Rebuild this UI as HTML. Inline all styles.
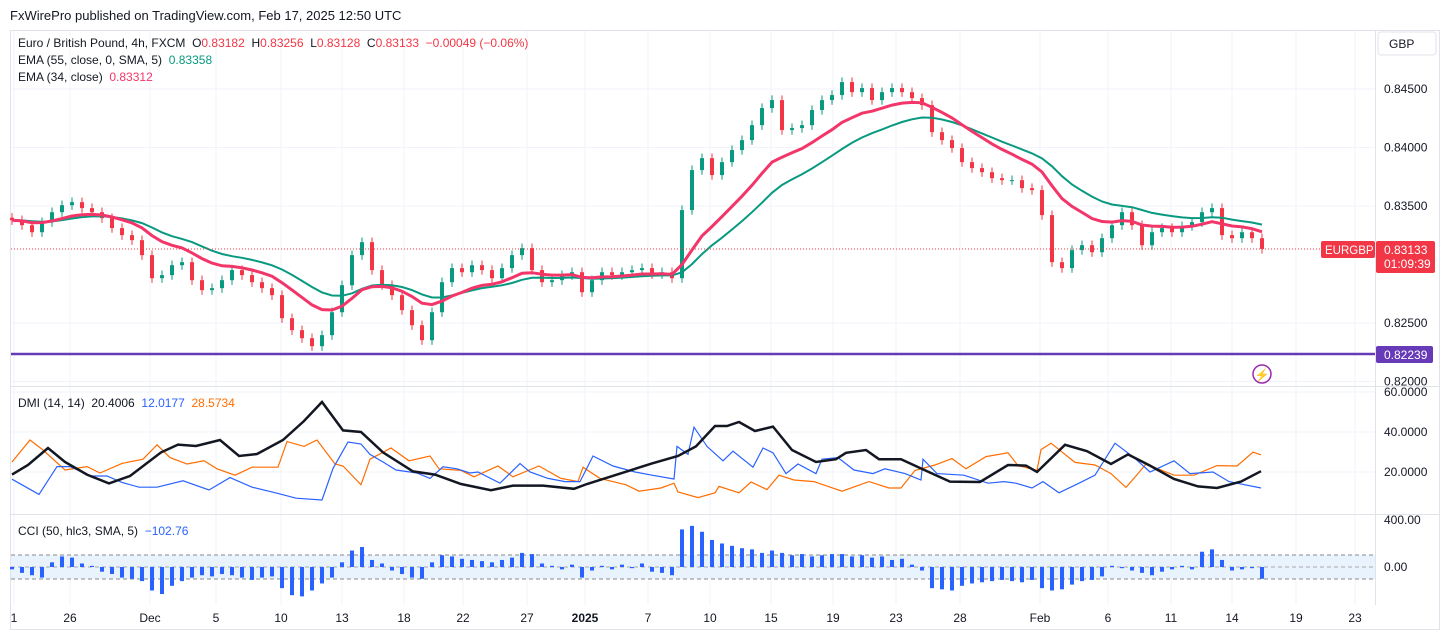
<!DOCTYPE html>
<html><head><meta charset="utf-8"><style>
body{margin:0;background:#fff;font-family:"Liberation Sans",sans-serif;}
#wrap{position:relative;width:1444px;height:638px;overflow:hidden;}
svg text{font-family:"Liberation Sans",sans-serif;white-space:pre;}
</style></head><body>
<div id="wrap">
<svg id="svg" width="1444" height="638" xmlns="http://www.w3.org/2000/svg">
<text x="10" y="20" font-size="13" fill="#131722">FxWirePro published on TradingView.com, Feb 17, 2025 12:50 UTC</text>
<rect x="10.5" y="30.5" width="1429" height="599" fill="#fff" stroke="#e0e3eb"/>
<g id="grid"></g>
<rect x="11" y="555" width="1364" height="24" fill="#e8f3fd"/>
<line x1="11" x2="1375" y1="555" y2="555" stroke="#888" stroke-dasharray="4,3"/>
<line x1="11" x2="1375" y1="567" y2="567" stroke="#aaa" stroke-dasharray="4,3"/>
<line x1="11" x2="1375" y1="579" y2="579" stroke="#888" stroke-dasharray="4,3"/>
<line x1="11" x2="1440" y1="386.5" y2="386.5" stroke="#e0e3eb"/>
<line x1="11" x2="1440" y1="514.5" y2="514.5" stroke="#e0e3eb"/>
<line x1="1375.5" x2="1375.5" y1="31" y2="605" stroke="#e0e3eb"/>
<g id="marks"></g>
<line x1="11" x2="1375" y1="354" y2="354" stroke="#673ab7" stroke-width="2.5"/>
<rect x="1376" y="346" width="57" height="17" rx="2" fill="#673ab7"/>
<text x="1384" y="359" font-size="12" fill="#fff">0.82239</text>
<circle cx="1262" cy="374" r="9" fill="none" stroke="#9c27b0" stroke-width="1.5"/>
<text x="1262" y="379" font-size="12" fill="#9c27b0" text-anchor="middle">⚡</text>
<rect x="1378" y="32" width="58" height="23" rx="3" fill="#fff" stroke="#e0e3eb"/>
<text x="1389" y="48" font-size="12" fill="#131722">GBP</text>
<g id="axes"></g>
<text x="18" y="47" font-size="12" fill="#131722">Euro / British Pound, 4h, FXCM  O<tspan fill="#f23645">0.83182</tspan>  H<tspan fill="#f23645">0.83256</tspan>  L<tspan fill="#f23645">0.83128</tspan>  C<tspan fill="#f23645">0.83133</tspan>  <tspan fill="#f23645">−0.00049 (−0.06%)</tspan></text>
<text x="18" y="64" font-size="12" fill="#131722">EMA (55, close, 0, SMA, 5)  <tspan fill="#089981">0.83358</tspan></text>
<text x="18" y="81" font-size="12" fill="#131722">EMA (34, close)  <tspan fill="#f23669">0.83312</tspan></text>
<text x="18" y="407" font-size="12" fill="#131722">DMI (14, 14)  20.4006  <tspan fill="#2962ff">12.0177</tspan>  <tspan fill="#ff6d00">28.5734</tspan></text>
<text x="18" y="535" font-size="12" fill="#131722">CCI (50, hlc3, SMA, 5)  <tspan fill="#2962ff">−102.76</tspan></text>
</svg>
</div>
<script>
const closes=[0.83379,0.83336,0.83276,0.83362,0.83447,0.83507,0.83533,0.83482,0.83447,0.83396,0.83311,0.83251,0.83208,0.83080,0.82883,0.82909,0.82994,0.83020,0.82866,0.82781,0.82798,0.82866,0.82952,0.82909,0.82849,0.82798,0.82738,0.82541,0.82439,0.82370,0.82302,0.82396,0.82592,0.82823,0.83080,0.83191,0.82952,0.82823,0.82738,0.82610,0.82481,0.82353,0.82592,0.82849,0.82969,0.82934,0.82994,0.82952,0.82883,0.82969,0.83080,0.83140,0.82952,0.82849,0.82866,0.82909,0.82934,0.82763,0.82866,0.82934,0.82909,0.82934,0.82952,0.82969,0.82917,0.82934,0.82883,0.83465,0.83807,0.83909,0.83764,0.83875,0.83978,0.84063,0.84191,0.84337,0.84405,0.84149,0.84166,0.84191,0.84320,0.84405,0.84448,0.84559,0.84473,0.84508,0.84405,0.84473,0.84508,0.84473,0.84422,0.84362,0.84131,0.84063,0.83995,0.83875,0.83824,0.83789,0.83738,0.83721,0.83721,0.83653,0.83636,0.83422,0.83020,0.82969,0.83123,0.83165,0.83105,0.83225,0.83336,0.83447,0.83336,0.83165,0.83276,0.83311,0.83276,0.83328,0.83362,0.83447,0.83482,0.83251,0.83225,0.83276,0.83225,0.83133];
const firstOpen=0.83400;
const cciVals=[-20,-50,-70,-90,40,90,80,30,10,-40,-60,-90,-100,-120,-200,-230,-160,-120,-90,-70,-80,-60,-70,-90,-110,-90,-80,-180,-240,-250,-200,-140,-90,40,140,170,60,30,-30,-60,-90,-100,40,100,90,70,60,50,40,60,80,120,110,30,10,-20,20,-90,-30,10,-20,20,-10,30,-40,-50,-70,320,350,300,230,200,180,160,150,120,140,120,100,110,90,100,110,110,90,100,80,90,60,70,20,-30,-180,-190,-200,-160,-140,-130,-120,-110,-120,-130,-110,-180,-200,-190,-150,-120,-110,-80,10,-10,-30,-50,-70,-40,-20,10,-20,130,150,60,-30,-20,-10,-100];
const adxIdx=[0,1.6,3.6,5.3,7.5,9.7,11.8,14.9,16.6,18.4,20.8,22.7,24.5,27.1,29.2,31,33.1,34.9,37.1,40.1,42.3,44.9,47.9,50.1,53.1,56.2,57.5,60.5,64,66.6,68.4,70.3,71.5,72.7,74.3,76.1,78,80.4,82.4,83.4,85.4,86.7,88.9,91.1,93.8,96.8,99.6,101.4,102.5,105.3,107.5,109.9,111.6,113.8,116.2,118.6,120.5,122.9,124.9];
const adxVals=[18.7,23.5,32,25,18.7,14.3,18,29.8,33.7,33,36,28,29,36,45.5,55,40.8,40,29.8,20.3,18.7,14,10.9,13.2,13.2,11.6,14,18.7,24.3,28,32.8,43,43,45,40.5,42.7,31,25,26.4,29.6,31,26.4,26.4,21.3,15.2,15,23.5,23.2,20,33.6,30.4,24,28.8,23.2,16.5,12.8,12,15.2,20.4];
const pdiIdx=[0,2.7,4.5,5.8,7.9,9.5,11,12.7,14.5,17.1,19.7,21.8,24,26.6,28.4,31,32.1,33.6,34.9,35.8,37.1,38.4,40.5,41.8,43.1,44.5,45.8,46.6,48.8,50.8,51.8,53.6,55.3,56.8,58.1,60.1,62.3,64,66.2,66.5,67.6,68.2,69.5,71.1,72.1,74.1,75.1,76.1,77.4,78.6,80.4,81,82.6,84.2,86.1,87.3,89.3,90.9,91.1,92.5,95.2,97.6,99.2,100.4,102,103.1,104.7,106.7,108.3,110.3,112.2,113.8,116.2,117.8,120.1,121.7,124.9];
const pdiVals=[16.4,8.8,22.7,22.7,18,18,14.8,12.4,12.4,15.6,11,17.2,12.4,9.3,6.9,6,21.8,35,34,28.8,25,21,19.5,16.8,22.6,21.6,19.5,20,14.4,24.2,20,16.8,15.2,15.2,28,23,20,18.4,16.5,32.8,28.8,42.4,32.8,25.6,30.4,22.4,32,29.6,19.2,24,19.2,26.4,27.2,21,19.2,21.6,19.2,16,26.4,19.2,18.4,14.4,15.2,14.4,12,15.2,9.6,14.4,18.4,34.4,27.2,20,25.6,19.2,20,15.2,12];
const mdiIdx=[0,1.8,3.1,5.3,7.5,8.8,11,13.1,14.5,15.8,17.5,19.2,20.5,22.3,24,26.6,27.5,29.2,30.5,32.3,33.1,34.9,35.8,37.9,39.7,41.8,42.7,44.9,46.2,48.6,50.1,52.7,54.9,56.6,57.1,58.8,61.4,62.7,64.9,66.2,66.6,68.6,70.3,70.7,72.7,73.9,75.5,76.7,78.2,80.2,83,85.7,87.7,88.9,90.3,92.3,94,95.4,97.4,99.6,100.6,102.5,102.9,103.9,106.3,108.3,109.9,111.4,112.6,113.4,116.2,118.2,120.5,122.5,124.1,124.9];
const mdiVals=[25,36,31,21,22.7,19.5,24.3,26.4,33.6,27.2,24,25.6,21.6,18.4,22.4,22.4,35.2,32.8,36,24,23,13.6,26.4,32,25.6,28,21.6,20.8,17.6,23,17.6,23,16.8,15.2,22.4,16.8,13.6,10.4,12,14.4,10,7.2,9.6,12.8,9.6,15,11.2,18.4,16,15.2,10.4,15.2,12,12,20.8,23.5,26.7,21.6,27.7,29.6,23.2,20.8,31.2,34.4,24.8,23.5,19.2,12.3,19.2,24,18.4,18.4,23.2,23,29.9,28.6];
const dateLabels=["1","26","Dec","5","10","13","18","22","27","2025","7","10","15","19","23","28","Feb","6","11","14","19","23"];
const dateBarPos=[0.2,5.8,13.8,20.4,26.9,33,39.2,45.1,51.5,57.3,63.6,69.8,75.9,82.1,88.4,94.8,102.8,109.6,115.9,122,128.4,134.3];
const priceTicks=[0.845,0.840,0.835,0.825,0.820];
const dmiTicks=[60,40,20];
const cciTicks=[400,0];

const NS="http://www.w3.org/2000/svg";
const marks=document.getElementById('marks'),grid=document.getElementById('grid'),axes=document.getElementById('axes');
const xOf=i=>12+10*i;
const yP=p=>89+(0.845-p)*11700;
const yD=v=>512-2*v;
const yC=v=>567-0.1175*v;
function mk(tag,attrs,parent){const e=document.createElementNS(NS,tag);for(const k in attrs)e.setAttribute(k,attrs[k]);parent.appendChild(e);return e;}

dateBarPos.forEach((b,i)=>{
  const gl=mk('line',{x1:xOf(b),x2:xOf(b),y1:31,y2:605,stroke:'#f0f3fa'},grid);
  
  
  const t=mk('text',{x:xOf(b),y:622,'font-size':12,fill:'#131722','text-anchor':'middle','font-weight':dateLabels[i]==='2025'?'bold':'normal'},axes);
  t.textContent=dateLabels[i];
  
  
});
priceTicks.forEach(p=>{
  const gl=mk('line',{x1:11,x2:1375,y1:yP(p),y2:yP(p),stroke:'#f0f3fa'},grid);
  
  
  const t=mk('text',{x:1384,y:yP(p)+4,'font-size':12,fill:'#131722'},axes);
  t.textContent=p.toFixed(5);
  
  
});
dmiTicks.forEach(v=>{
  const gl=mk('line',{x1:11,x2:1375,y1:yD(v),y2:yD(v),stroke:'#f0f3fa'},grid);
  
  
  const t=mk('text',{x:1384,y:yD(v)+4,'font-size':12,fill:'#131722'},axes);
  t.textContent=v.toFixed(4);
  
  
});
cciTicks.forEach(v=>{
  const t=mk('text',{x:1384,y:yC(v)+4,'font-size':12,fill:'#131722'},axes);
  t.textContent=v.toFixed(2);
  
  
});

closes.forEach((c,i)=>{
  const o=i===0?firstOpen:closes[i-1];
  const up=c>=o, col=up?'#089981':'#f23645';
  const hi=Math.max(o,c)+0.0004, lo=Math.min(o,c)-0.0004;
  const w=mk('line',{x1:xOf(i),x2:xOf(i),y1:yP(hi),y2:yP(lo),stroke:col,'stroke-width':1},marks);
  
  
  const top=yP(Math.max(o,c)),h=Math.max(1,yP(Math.min(o,c))-top);
  const b=mk('rect',{x:xOf(i)-2,y:top,width:4,height:h,fill:col},marks);
  
  
});
function ema(arr,n){const k=2/(n+1);let e=arr[0];return arr.map(v=>(e=v*k+e*(1-k)));}
const e34=ema(closes,12);
const e55raw=ema(closes,19);
const e55=e55raw.map((v,i)=>{const s=e55raw.slice(Math.max(0,i-1),i+1);return s.reduce((a,b)=>a+b,0)/s.length;});
function path(xs,ys){return xs.map((x,i)=>(i?'L':'M')+x.toFixed(1)+','+ys[i].toFixed(1)).join('');}
const p55=mk('path',{d:path(closes.map((_,i)=>xOf(i)),e55.map(yP)),fill:'none',stroke:'#089981','stroke-width':2},marks);


const p34=mk('path',{d:path(closes.map((_,i)=>xOf(i)),e34.map(yP)),fill:'none',stroke:'#f23669','stroke-width':3},marks);


const last=closes[closes.length-1];
const lp=mk('line',{x1:11,x2:1375,y1:yP(last),y2:yP(last),stroke:'#f23645','stroke-dasharray':'1,2'},marks);


const sb=mk('rect',{x:1321,y:yP(last)-8,width:54,height:17,rx:2,fill:'#f23645'},marks);


const st=mk('text',{x:1325,y:yP(last)+5,'font-size':11.5,fill:'#fff'},marks);
st.textContent='EURGBP';


const pb=mk('rect',{x:1376,y:yP(last)-8,width:59,height:32,rx:2,fill:'#f23645'},marks);


const pt=mk('text',{x:1384,y:yP(last)+5,'font-size':12,fill:'#fff'},marks);
pt.textContent=last.toFixed(5);


const ct=mk('text',{x:1384,y:yP(last)+19,'font-size':12,fill:'#fff'},marks);
ct.textContent='01:09:39';


const pm=mk('path',{d:path(mdiIdx.map(xOf),mdiVals.map(yD)),fill:'none',stroke:'#ff6d00','stroke-width':1.2},marks);


const pp=mk('path',{d:path(pdiIdx.map(xOf),pdiVals.map(yD)),fill:'none',stroke:'#2962ff','stroke-width':1.2},marks);


const pa=mk('path',{d:path(adxIdx.map(xOf),adxVals.map(yD)),fill:'none',stroke:'#131722','stroke-width':2.5},marks);


cciVals.forEach((v,i)=>{
  const y0=yC(0),y1=yC(v);
  const r=mk('rect',{x:xOf(i)-2,y:Math.min(y0,y1),width:4,height:Math.max(1,Math.abs(y1-y0)),fill:'#2962ff'},marks);
  
  
});
</script>
</body></html>
